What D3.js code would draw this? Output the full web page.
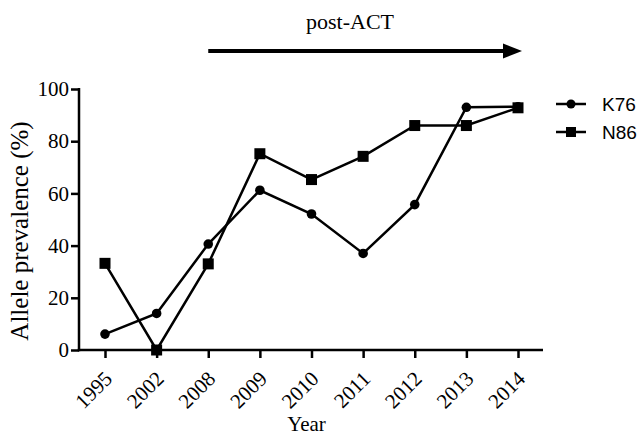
<!DOCTYPE html>
<html>
<head>
<meta charset="utf-8">
<script src="https://cdn.jsdelivr.net/npm/d3@7"></script>
<style>
  body { margin: 0; background: #fff; }
  svg { display: block; }
</style>
</head>
<body>
<svg width="641" height="437"></svg>
<script>
const years = ["1995", "2002", "2008", "2009", "2010", "2011", "2012", "2013", "2014"];
const k76 = [6.1, 14.0, 40.6, 61.2, 52.1, 37.0, 55.7, 93.0, 93.2];
const n86 = [33.2, 0, 33.0, 75.2, 65.3, 74.2, 86.0, 86.0, 92.8];
const yTicks = [0, 20, 40, 60, 80, 100];

const svg = d3.select("svg");
const serif = "'Liberation Serif', 'Times New Roman', serif";

const axisX0 = 79, axisX1 = 543;
const x = d3.scalePoint().domain(years).range([105, 518]);
const y = d3.scaleLinear().domain([0, 100]).range([350, 89]);

// y axis
const yAxis = svg.append("g")
  .attr("transform", `translate(${axisX0},0)`)
  .call(d3.axisLeft(y).tickValues(yTicks).tickSize(8).tickPadding(2));
yAxis.select(".domain").remove();
yAxis.selectAll("line").attr("stroke", "#000").attr("stroke-width", 2.5);
yAxis.selectAll("text").style("font-family", serif).style("font-size", "21px").attr("fill", "#000");
svg.append("line")
  .attr("x1", axisX0).attr("x2", axisX0)
  .attr("y1", y(100) - 1).attr("y2", y(0) + 1.25)
  .attr("stroke", "#000").attr("stroke-width", 2.5);

// x axis
const xAxis = svg.append("g")
  .attr("transform", `translate(0,${y(0)})`)
  .call(d3.axisBottom(x).tickSize(8));
xAxis.select(".domain").remove();
xAxis.selectAll("line").attr("stroke", "#000").attr("stroke-width", 2.5);
xAxis.selectAll("text")
  .style("font-family", serif).style("font-size", "21px").attr("fill", "#000")
  .attr("text-anchor", "end")
  .attr("y", 0).attr("dy", 0)
  .attr("transform", "translate(8,30) rotate(-45)");
svg.append("line")
  .attr("x1", axisX0 - 1.25).attr("x2", axisX1)
  .attr("y1", y(0)).attr("y2", y(0))
  .attr("stroke", "#000").attr("stroke-width", 2.5);

// axis titles
svg.append("text")
  .attr("transform", `translate(28,231) rotate(-90)`)
  .attr("text-anchor", "middle")
  .style("font-family", serif).style("font-size", "25px")
  .text("Allele prevalence (%)");

svg.append("text")
  .attr("x", (x("2009") + x("2011")) / 2 - 5)
  .attr("y", 431)
  .attr("text-anchor", "middle")
  .style("font-family", serif).style("font-size", "21px")
  .text("Year");

// lines
const line = d3.line().x((d, i) => x(years[i])).y(d => y(d));
[k76, n86].forEach(vals => {
  svg.append("path")
    .datum(vals)
    .attr("fill", "none")
    .attr("stroke", "#000")
    .attr("stroke-width", 2.5)
    .attr("d", line);
});

svg.selectAll(".k76")
  .data(k76)
  .enter().append("circle")
  .attr("class", "k76")
  .attr("cx", (d, i) => x(years[i]))
  .attr("cy", d => y(d))
  .attr("r", 4.8);

svg.selectAll(".n86")
  .data(n86)
  .enter().append("rect")
  .attr("class", "n86")
  .attr("x", (d, i) => x(years[i]) - 5.5)
  .attr("y", d => y(d) - 5.5)
  .attr("width", 11)
  .attr("height", 11);

// post-ACT arrow
const arrowY = 51, arrowStart = x("2008"), headStart = 503, arrowEnd = 522;
svg.append("line")
  .attr("x1", arrowStart).attr("x2", headStart + 2)
  .attr("y1", arrowY).attr("y2", arrowY)
  .attr("stroke", "#000").attr("stroke-width", 4);
svg.append("path")
  .attr("d", `M${headStart},${arrowY - 7.5} L${arrowEnd},${arrowY} L${headStart},${arrowY + 7.5} Z`)
  .attr("fill", "#000");

svg.append("text")
  .attr("x", 350).attr("y", 29)
  .attr("text-anchor", "middle")
  .style("font-family", serif).style("font-size", "22px")
  .text("post-ACT");

// legend
const legendData = [
  { label: "K76", shape: "circle" },
  { label: "N86", shape: "square" }
];
const legend = svg.append("g").attr("transform", "translate(556,104)");
legend.selectAll(".legend-item")
  .data(legendData)
  .enter()
  .append("g")
  .attr("class", "legend-item")
  .attr("transform", (d, i) => `translate(0,${i * 28})`)
  .each(function(d) {
    const g = d3.select(this);
    g.append("line")
      .attr("x1", 0).attr("x2", 30)
      .attr("stroke", "#000").attr("stroke-width", 2.5);
    if (d.shape === "circle") {
      g.append("circle").attr("cx", 15).attr("r", 4.5);
    } else {
      g.append("rect").attr("x", 10).attr("y", -5).attr("width", 10).attr("height", 10);
    }
    g.append("text")
      .attr("x", 46).attr("y", 7)
      .style("font-family", "'Liberation Sans', Arial, sans-serif")
      .style("font-size", "19px")
      .text(d.label);
  });
</script>
</body>
</html>
